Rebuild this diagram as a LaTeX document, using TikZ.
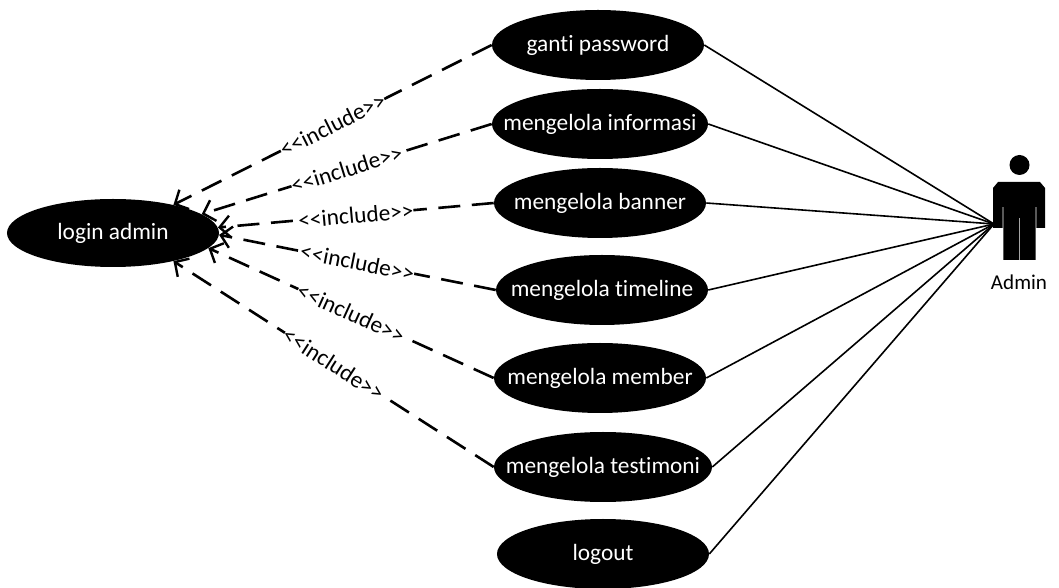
\documentclass[tikz,border=0pt]{standalone}
\usepackage{fontspec}
\setmainfont[Ligatures=NoCommon]{Carlito}
\usetikzlibrary{shapes.geometric,arrows.meta}
\tikzstyle{usecase} = [fill=black, ellipse, text=white, inner xsep=-8mm, inner ysep=0pt, minimum height=17.5mm, minimum width=53mm, font={\fontsize{16.6pt}{18pt}\selectfont}]
\tikzstyle{incl} = [dash pattern=on 5.5mm off 2.9mm, line width=0.65mm, -{Straight Barb[length=2.6mm,width=5.4mm,line width=0.6mm]}]
\tikzstyle{assoc} = [line width=0.4mm]
\tikzstyle{stereo} = [fill=white, inner xsep=0pt, inner ysep=-1pt, font={\fontsize{16.6pt}{18pt}\selectfont}]
\newcommand{\incltext}{<{}<include>{}>}

\begin{document}
\begin{tikzpicture}[x=0.25mm,y=-0.25mm]
  \useasboundingbox (0,0) rectangle (1059,588);
  \node[usecase,minimum height=17mm](login) at (113,233){login admin};
  \node[usecase](ganti) at (598,45){ganti password};
  \node[usecase,minimum width=54mm](informasi) at (600,124){mengelola informasi};
  \node[usecase](banner) at (600,203){mengelola banner};
  \node[usecase](timeline) at (602,290){mengelola timeline};
  \node[usecase](member) at (600,378){mengelola member};
  \node[usecase,minimum width=54.5mm](testimoni) at (603,467){mengelola testimoni};
  \node[usecase](logout) at (603,554){logout};
  \node[font={\fontsize{15pt}{17pt}\selectfont}](admin) at (1019,282){Admin};
  \coordinate(hand) at (994,224);
  % actor
  \fill (1019.5,165) circle (2.5mm);
  \fill (998,182) -- (1040,182) -- (1045,188) -- (1045,228) -- (1036.3,228) -- (1036.3,207) -- (1035.7,207)
    -- (1035.7,260) -- (1019.8,260) -- (1019.8,218) -- (1019.2,218) -- (1019.2,260) -- (1003.3,260)
    -- (1003.3,207) -- (1002.7,207) -- (1002.7,228) -- (993,228) -- (993,188) -- cycle;
  \draw[incl](ganti.west)--(login.25) node[stereo,pos=0.5,sloped]{\incltext};
  \draw[incl](informasi.west)--(login.12) node[stereo,pos=0.5,sloped]{\incltext};
  \draw[incl](banner.west)--(login.3) node[stereo,pos=0.5,sloped]{\incltext};
  \draw[incl](timeline.west)--(login.-1) node[stereo,pos=0.5,sloped]{\incltext};
  \draw[incl](member.west)--(login.-9) node[stereo,pos=0.5,sloped]{\incltext};
  \draw[incl](testimoni.west)--(login.-25) node[stereo,pos=0.5,sloped]{\incltext};
  \draw[assoc](ganti.east)--(hand);
  \draw[assoc](informasi.east)--(hand);
  \draw[assoc](banner.east)--(hand);
  \draw[assoc](timeline.east)--(hand);
  \draw[assoc](member.east)--(hand);
  \draw[assoc](testimoni.east)--(hand);
  \draw[assoc](logout.east)--(hand);
\end{tikzpicture}
\end{document}
